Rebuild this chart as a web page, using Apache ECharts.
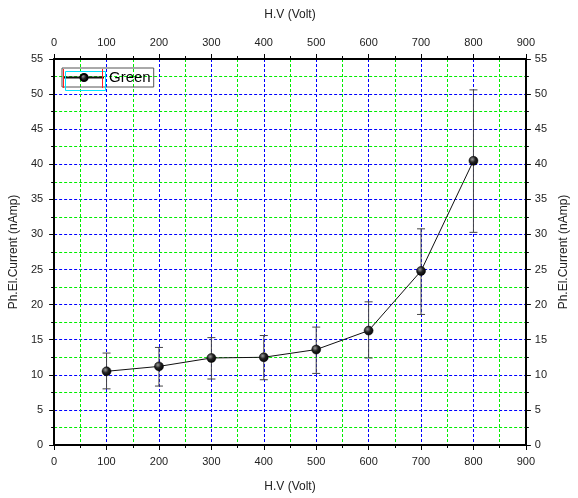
<!DOCTYPE html>
<html><head><meta charset="utf-8">
<script src="https://cdn.jsdelivr.net/npm/echarts@6/dist/echarts.min.js"></script>
<style>html,body{margin:0;padding:0;background:#fff}#c{width:578px;height:498px}</style>
</head><body><div id="c"></div>
<script>
var voltages = [100, 200, 300, 400, 500, 600, 700, 800];
var currents = [10.5, 11.2, 12.4, 12.5, 13.6, 16.3, 24.8, 40.5];
var errLow   = [8.0, 8.4, 9.4, 9.3, 10.2, 12.4, 18.6, 30.3];
var errHigh  = [13.1, 13.9, 15.3, 15.6, 16.8, 20.4, 30.8, 50.6];
var xTicks = [0, 900, 100];
var yTicks = [0, 55, 5];
var seriesName = 'Green';

var lineData = voltages.map(function(v, i){ return [v, currents[i]]; });
var errData = voltages.map(function(v, i){ return [v, errLow[i], errHigh[i]]; });
var font = 'Liberation Sans, Arial, sans-serif';

function xAxisDef(pos, show){
  return {
    type: 'value', position: pos, min: xTicks[0], max: xTicks[1], interval: xTicks[2],
    name: 'H.V (Volt)', nameLocation: 'middle', nameGap: pos === 'bottom' ? 36 : 38,
    nameTextStyle: {color: '#222', fontSize: 12, fontFamily: font},
    axisLine: {show: true, onZero: false, lineStyle: {color: '#000', width: 2}},
    axisTick: {show: true, inside: false, length: 5, lineStyle: {color: '#000', width: 1}},
    minorTick: {show: true, splitNumber: 2, length: 3, lineStyle: {color: '#000'}},
    axisLabel: {color: '#222', fontSize: 11, fontFamily: font, margin: 11},
    splitLine: {show: show, lineStyle: {color: '#0000ff', type: [3, 2], width: 1}},
    minorSplitLine: {show: show, lineStyle: {color: '#00ee00', type: [3, 2], width: 1}}
  };
}
function yAxisDef(pos, show){
  return {
    type: 'value', position: pos, min: yTicks[0], max: yTicks[1], interval: yTicks[2],
    name: 'Ph.El.Current (nAmp)', nameLocation: 'middle', nameGap: pos === 'left' ? 31 : 30,
    nameTextStyle: {color: '#222', fontSize: 12, fontFamily: font},
    axisLine: {show: true, onZero: false, lineStyle: {color: '#000', width: 2}},
    axisTick: {show: true, inside: false, length: 5, lineStyle: {color: '#000', width: 1}},
    minorTick: {show: true, splitNumber: 2, length: 3, lineStyle: {color: '#000'}},
    axisLabel: {color: '#222', fontSize: 11, fontFamily: font, margin: pos === 'left' ? 11 : 9},
    splitLine: {show: show, lineStyle: {color: '#0000ff', type: [3, 2], width: 1}},
    minorSplitLine: {show: show, lineStyle: {color: '#00ee00', type: [3, 2], width: 1}}
  };
}

var sphere = new echarts.graphic.RadialGradient(0.38, 0.35, 0.7, [
  {offset: 0, color: '#9a9a9a'}, {offset: 0.45, color: '#222'}, {offset: 1, color: '#000'}
]);

var chart = echarts.init(document.getElementById('c'), null, {renderer: 'canvas'});
chart.setOption({
  backgroundColor: '#fff',
  animation: false,
  grid: {left: 50, right: 41, top: 59, bottom: 49},
  xAxis: [xAxisDef('bottom', true), xAxisDef('top', false)],
  yAxis: [yAxisDef('left', true), yAxisDef('right', false)],
  legend: {
    left: 62, top: 68, data: [seriesName], orient: 'horizontal',
    borderColor: '#555', borderWidth: 1, padding: [2, 3, 2, 1],
    itemWidth: 40, itemHeight: 9, itemGap: 4,
    textStyle: {color: '#000', fontSize: 15, fontFamily: font}
  },
  graphic: [
    {type: 'rect', left: 63, top: 69, z: 100, shape: {width: 40, height: 19}, style: {fill: 'none', stroke: '#00e5ff', lineWidth: 1}},
    {type: 'line', z: 101, shape: {x1: 63.5, y1: 69, x2: 63.5, y2: 88}, style: {stroke: '#ff2020', lineWidth: 1}},
    {type: 'line', z: 101, shape: {x1: 102.5, y1: 69, x2: 102.5, y2: 88}, style: {stroke: '#ff2020', lineWidth: 1}}
  ],
  series: [
    {
      type: 'custom', name: 'err', xAxisIndex: 0, yAxisIndex: 0, z: 3,
      data: errData,
      renderItem: function(params, api){
        var x = api.value(0);
        var lo = api.coord([x, api.value(1)]);
        var hi = api.coord([x, api.value(2)]);
        var w = 4;
        var st = {stroke: '#444', lineWidth: 1};
        return {type: 'group', children: [
          {type: 'line', shape: {x1: lo[0], y1: lo[1], x2: hi[0], y2: hi[1]}, style: st},
          {type: 'line', shape: {x1: lo[0]-w, y1: lo[1], x2: lo[0]+w, y2: lo[1]}, style: st},
          {type: 'line', shape: {x1: hi[0]-w, y1: hi[1], x2: hi[0]+w, y2: hi[1]}, style: st}
        ]};
      }
    },
    {
      type: 'line', name: seriesName, xAxisIndex: 0, yAxisIndex: 0, z: 5,
      data: lineData,
      lineStyle: {color: '#111', width: 1},
      itemStyle: {color: sphere, borderColor: '#000', borderWidth: 0.5},
      symbol: 'circle', symbolSize: 9
    }
  ]
});
</script></body></html>
